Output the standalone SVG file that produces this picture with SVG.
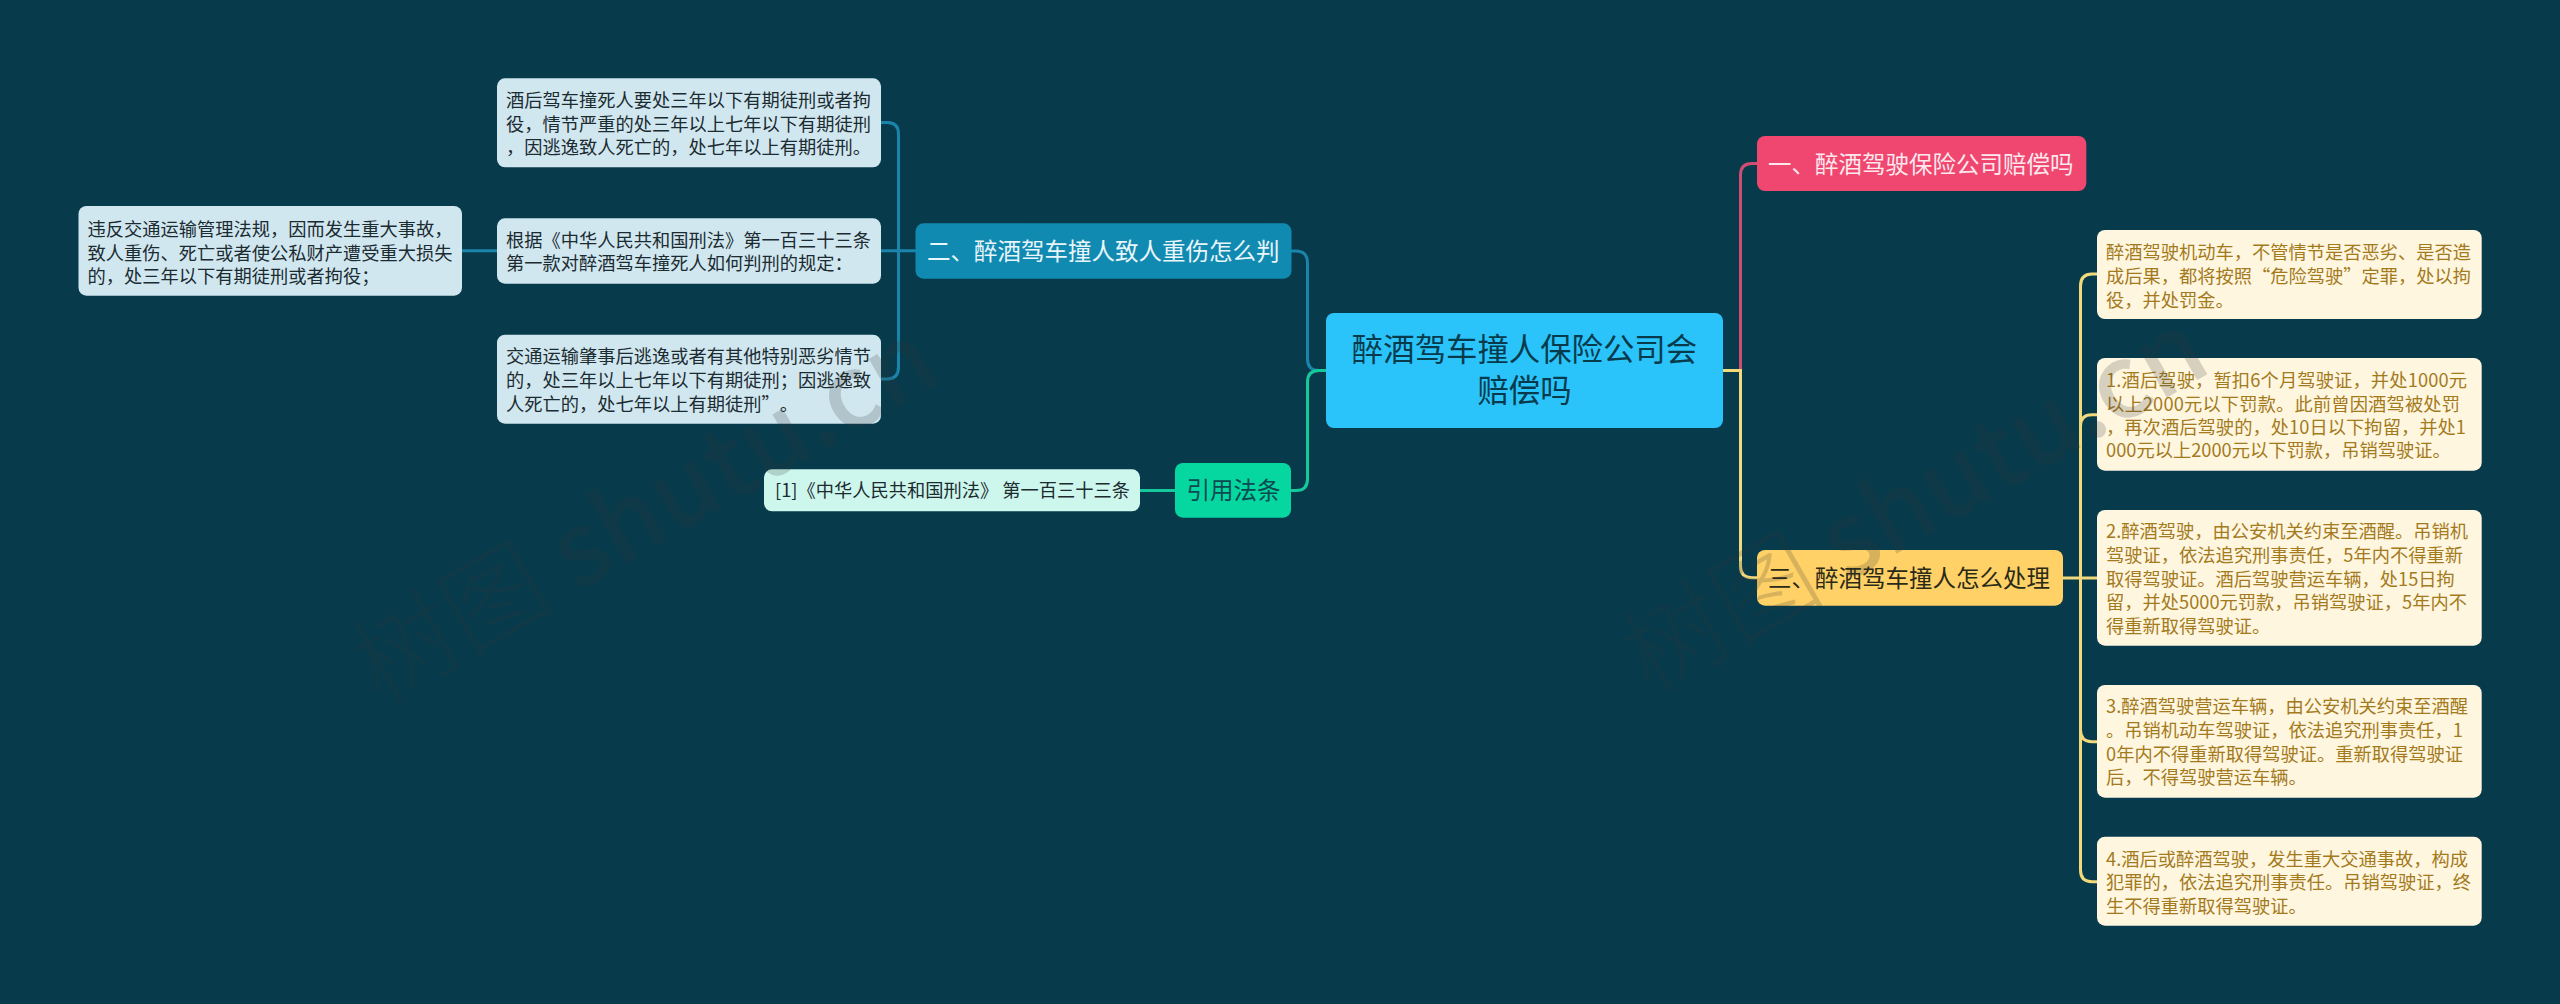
<svg xmlns="http://www.w3.org/2000/svg" width="2560" height="1004" viewBox="0 0 2560 1004">
<defs>
<style>
text{font-family:"Noto Sans CJK SC","Noto Sans",sans-serif;white-space:pre;text-spacing-trim:space-all}
.c{fill:none;stroke-width:3;stroke-linecap:round}
.t{font-size:18.25px}
.b{font-size:23.5px}
.lb{fill:#d0e7f0}.lg{fill:#cdf7ec}.ly{fill:#fff6e0}
.tb{fill:#1c2b30}.ty{fill:#a37a1c}
.wm{font-size:102px;font-weight:500;fill:#333;opacity:.19}
.wm tspan{font-weight:300}
.sb{stroke:#1a84aa}.sg{stroke:#15c99c}.sr{stroke:#cf4d72}.sy{stroke:#f2d97c}
</style>
</defs>
<rect width="2560" height="1004" fill="#073b4c"/>
<g id="connectors">
<path class="c sb" d="M1326 370.500H1319Q1307.500 370.500 1307.500 359V263Q1307.500 251 1296 251H1291"/>
<path class="c sg" d="M1326 370.500H1319Q1307.500 370.500 1307.500 382V479Q1307.500 490.500 1296 490.500H1291"/>
<path class="c sr" d="M1723 370.500H1740.500V175Q1740.500 163.500 1752 163.500H1757"/>
<path class="c sy" d="M1723 370.500H1740.500V566Q1740.500 577.700 1752 577.700H1757"/>
<path class="c sb" d="M915 250.700H462"/>
<path class="c sb" d="M881 122.500H887Q898.500 122.500 898.500 134V367Q898.500 379 887 379H881"/>
<path class="c sg" d="M1175 490.500H1140"/>
<path class="c sy" d="M2063 578H2097"/>
<path class="c sy" d="M2097 274H2092Q2080.500 274 2080.500 286V870Q2080.500 881.700 2092 881.700H2097"/>
<path class="c sy" d="M2097 414.700H2092Q2080.500 414.700 2080.500 426"/>
<path class="c sy" d="M2097 741.700H2092Q2080.500 741.700 2080.500 730"/>
</g>
<g id="root"><rect x="1326" y="313" width="397" height="115" rx="8" fill="#2ac4fb"/>
<text x="1524.500" y="361" text-anchor="middle" font-size="31.4" fill="#073b4c">醉酒驾车撞人保险公司会</text>
<text x="1524.500" y="402" text-anchor="middle" font-size="31.4" fill="#073b4c">赔偿吗</text></g>
<g id="n-yi"><rect x="1757" y="136" width="329.300" height="55" rx="8" fill="#ef476f"/>
<text class="b" x="1768" y="172.500" fill="#fde8ee">一、醉酒驾驶保险公司赔偿吗</text></g>
<g id="n-san"><rect x="1757" y="550" width="306" height="55.700" rx="8" fill="#ffd166"/>
<text class="b" x="1768" y="586.500" fill="#2a2a18">三、醉酒驾车撞人怎么处理</text></g>
<g id="n-er"><rect x="915.500" y="223.300" width="376" height="55.400" rx="8" fill="#118ab2"/>
<text class="b" x="927" y="259.700" fill="#e8f5fa">二、醉酒驾车撞人致人重伤怎么判</text></g>
<g id="n-yinyong"><rect x="1175" y="463" width="116" height="54.700" rx="8" fill="#06d6a0"/>
<text class="b" x="1186.500" y="498.500" fill="#0c4a50">引用法条</text></g>
<g id="n-ref"><rect x="764" y="469.300" width="376" height="42" rx="8" class="lg"/>
<text class="t tb" x="775" y="497">[1]《中华人民共和国刑法》 第一百三十三条</text></g>
<g id="n-left"><rect x="78.500" y="206" width="383.500" height="89.700" rx="8" class="lb"/>
<text class="t tb" x="87.500" y="236">违反交通运输管理法规，因而发生重大事故，</text>
<text class="t tb" x="87.500" y="259.500">致人重伤、死亡或者使公私财产遭受重大损失</text>
<text class="t tb" x="87.500" y="283">的，处三年以下有期徒刑或者拘役；</text></g>
<g id="n-a"><rect x="497" y="78.300" width="384" height="89" rx="8" class="lb"/>
<text class="t tb" x="506" y="106.500">酒后驾车撞死人要处三年以下有期徒刑或者拘</text>
<text class="t tb" x="506" y="130.500">役，情节严重的处三年以上七年以下有期徒刑</text>
<text class="t tb" x="506" y="154">，因逃逸致人死亡的，处七年以上有期徒刑。</text></g>
<g id="n-b"><rect x="497" y="218.300" width="384" height="65.400" rx="8" class="lb"/>
<text class="t tb" x="506" y="246.500">根据《中华人民共和国刑法》第一百三十三条</text>
<text class="t tb" x="506" y="270">第一款对醉酒驾车撞死人如何判刑的规定：</text></g>
<g id="n-c"><rect x="497" y="334.700" width="384" height="89" rx="8" class="lb"/>
<text class="t tb" x="506" y="363">交通运输肇事后逃逸或者有其他特别恶劣情节</text>
<text class="t tb" x="506" y="387">的，处三年以上七年以下有期徒刑；因逃逸致</text>
<text class="t tb" x="506" y="410.500">人死亡的，处七年以上有期徒刑”。</text></g>
<g id="n-y0"><rect x="2097" y="230" width="384.700" height="89" rx="8" class="ly"/>
<text class="t ty" x="2106" y="259">醉酒驾驶机动车，不管情节是否恶劣、是否造</text>
<text class="t ty" x="2106" y="282.500">成后果，都将按照“危险驾驶”定罪，处以拘</text>
<text class="t ty" x="2106" y="306.500">役，并处罚金。</text></g>
<g id="n-y1"><rect x="2097" y="358" width="384.700" height="112.700" rx="8" class="ly"/>
<text class="t ty" x="2106" y="386.500" textLength="361">1.酒后驾驶，暂扣6个月驾驶证，并处1000元</text>
<text class="t ty" x="2106" y="410.500" textLength="354">以上2000元以下罚款。此前曾因酒驾被处罚</text>
<text class="t ty" x="2106" y="434" textLength="360">，再次酒后驾驶的，处10日以下拘留，并处1</text>
<text class="t ty" x="2106" y="457">000元以上2000元以下罚款，吊销驾驶证。</text></g>
<g id="n-y2"><rect x="2097" y="510" width="384.700" height="135.700" rx="8" class="ly"/>
<text class="t ty" x="2106" y="538">2.醉酒驾驶，由公安机关约束至酒醒。吊销机</text>
<text class="t ty" x="2106" y="562">驾驶证，依法追究刑事责任，5年内不得重新</text>
<text class="t ty" x="2106" y="585.500">取得驾驶证。酒后驾驶营运车辆，处15日拘</text>
<text class="t ty" x="2106" y="609">留，并处5000元罚款，吊销驾驶证，5年内不</text>
<text class="t ty" x="2106" y="632.500">得重新取得驾驶证。</text></g>
<g id="n-y3"><rect x="2097" y="685" width="384.700" height="112.700" rx="8" class="ly"/>
<text class="t ty" x="2106" y="713">3.醉酒驾驶营运车辆，由公安机关约束至酒醒</text>
<text class="t ty" x="2106" y="737">。吊销机动车驾驶证，依法追究刑事责任，1</text>
<text class="t ty" x="2106" y="760.500">0年内不得重新取得驾驶证。重新取得驾驶证</text>
<text class="t ty" x="2106" y="784">后，不得驾驶营运车辆。</text></g>
<g id="n-y4"><rect x="2097" y="836.700" width="384.700" height="89" rx="8" class="ly"/>
<text class="t ty" x="2106" y="865.500">4.酒后或醉酒驾驶，发生重大交通事故，构成</text>
<text class="t ty" x="2106" y="888.500">犯罪的，依法追究刑事责任。吊销驾驶证，终</text>
<text class="t ty" x="2106" y="912.500">生不得重新取得驾驶证。</text></g>
<g id="watermarks">
<text class="wm" transform="translate(380 706) rotate(-30)"><tspan>树图</tspan> shutu.cn</text>
<text class="wm" transform="translate(1650 696) rotate(-30)"><tspan>树图</tspan> shutu.cn</text>
</g>
</svg>
